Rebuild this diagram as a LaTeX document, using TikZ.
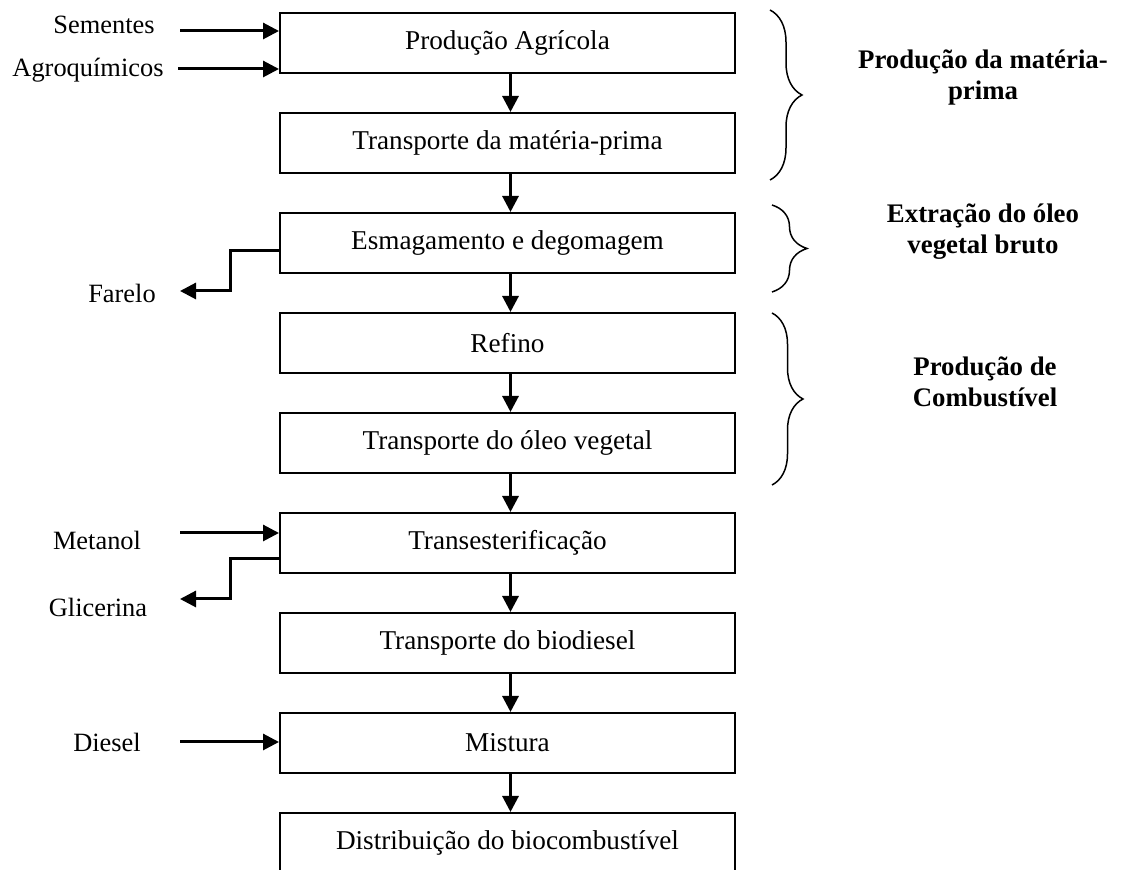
\documentclass[tikz,border=0pt]{standalone}
\usepackage{fontspec}
\setmainfont{Liberation Serif}
\usetikzlibrary{arrows.meta,decorations.pathreplacing}
\tikzset{
  box/.style={draw,line width=1pt,minimum width=227.5pt,minimum height=30pt,inner sep=0pt,font=\fontsize{13.6}{15}\selectfont},
  lbl/.style={font=\fontsize{13.2}{15}\selectfont,inner sep=0pt},
  grp/.style={font=\fontsize{13.4}{15.5}\selectfont\bfseries,align=center,inner sep=0pt},
  arr/.style={line width=1.5pt,-{Triangle[length=8pt,width=8pt]}},
  brc/.style={line width=0.75pt,decorate},
}
\begin{document}
\begin{tikzpicture}[x=0.5pt,y=-0.5pt]
\useasboundingbox (0,0) rectangle (1121,870);
\clip (0,0) rectangle (1121,870);
% boxes
\node[box] (b1) at (507.5,43) {Produção Agrícola};
\node[box] (b2) at (507.5,143) {Transporte da matéria-prima};
\node[box] (b3) at (507.5,243) {Esmagamento e degomagem};
\node[box] (b4) at (507.5,343) {Refino};
\node[box] (b5) at (507.5,443) {Transporte do óleo vegetal};
\node[box] (b6) at (507.5,543) {Transesterificação};
\node[box] (b7) at (507.5,643) {Transporte do biodiesel};
\node[box] (b8) at (507.5,743) {Mistura};
\node[box] (b9) at (507.5,843) {Distribuição do biocombustível};
% vertical arrows
\foreach \a/\b in {b1/b2,b2/b3,b3/b4,b4/b5,b5/b6,b6/b7,b7/b8,b8/b9}
  \draw[arr] ([xshift=1.5pt]\a.south) -- ([xshift=1.5pt]\b.north);
% side inputs
\node[lbl] (sem) at (104,25) {Sementes};
\node[lbl] (agr) at (88,70) {Agroquímicos};
\node[lbl] (far) at (122,293) {Farelo};
\node[lbl] (met) at (97,540) {Metanol};
\node[lbl] (gli) at (98,607) {Glicerina};
\node[lbl] (die) at (107,742) {Diesel};
\coordinate (s0) at (180,31);
\coordinate (a0) at (178,69);
\coordinate (m0) at (180,533);
\coordinate (d0) at (180,742);
\draw[arr] (s0) -- (s0 -| b1.west);
\draw[arr] (a0) -- (a0 -| b1.west);
\draw[arr] (m0) -- (m0 -| b6.west);
\draw[arr] (d0) -- (d0 -| b8.west);
\coordinate (f1) at (230,251);
\coordinate (f2) at (180,291);
\draw[arr] (f1 -| b3.west) -- (f1) |- (f2);
\coordinate (g1) at (230,559);
\coordinate (g2) at (180,599);
\draw[arr] (g1 -| b6.west) -- (g1) |- (g2);
% braces
\coordinate (k1t) at (770,10);
\coordinate (k1b) at (770,180);
\coordinate (k2t) at (772,205);
\coordinate (k2b) at (772,292);
\coordinate (k3t) at (772,313);
\coordinate (k3b) at (772,485);
\draw[brc,decoration={brace,amplitude=16pt}] (k1t) -- (k1b);
\draw[brc,decoration={brace,amplitude=17.5pt}] (k2t) -- (k2b);
\draw[brc,decoration={brace,amplitude=15.5pt}] (k3t) -- (k3b);
\node[grp] (g1l) at (983,78) {Produção da matéria-\\prima};
\node[grp] (g2l) at (983,232) {Extração do óleo\\vegetal bruto};
\node[grp] (g3l) at (985,382) {Produção de\\Combustível};
\end{tikzpicture}
\end{document}
